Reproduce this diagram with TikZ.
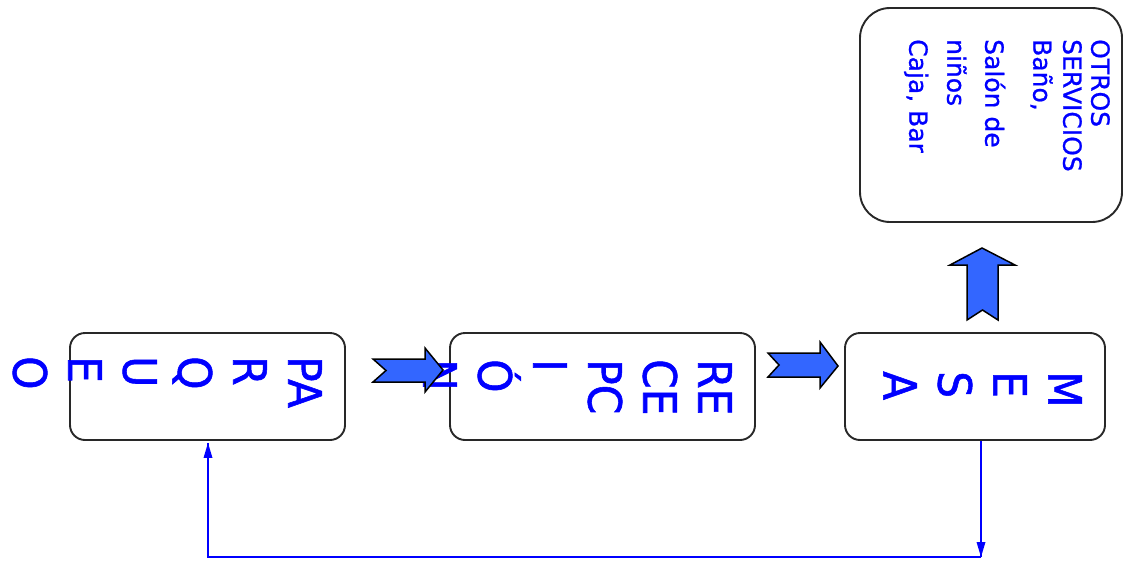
\documentclass[tikz,border=0pt]{standalone}
\usepackage{fontspec}
\usetikzlibrary{arrows.meta,calc}
\newfontfamily\bigfont[FakeStretch=0.92,FakeBold=1.2]{DejaVu Sans}
\newfontfamily\smallfont[FakeBold=0.8]{DejaVu Sans}
\definecolor{txtblue}{RGB}{0,0,255}
\definecolor{arrowfill}{RGB}{51,102,255}
\definecolor{edge}{RGB}{40,40,40}
\tikzset{
  box/.style={draw=edge, line width=1.9pt, rounded corners=15pt, fill=white, inner sep=0pt},
  bigbox/.style={box, rounded corners=30pt},
  bigtext/.style={rotate=-90, anchor=north west, inner sep=0pt, align=left,
    text=txtblue, font=\bigfont\fontsize{46}{55}\selectfont},
  smalltext/.style={rotate=-90, anchor=north west, inner sep=0pt, align=left,
    text=txtblue, font=\smallfont\fontsize{25}{28}\selectfont},
  blockarrow/.style={draw=black, fill=arrowfill, line width=1.5pt, line join=miter},
  link/.style={draw=txtblue, line width=1.6pt},
  tiphead/.style={fill=txtblue}
}
\begin{document}
\begin{tikzpicture}[x=1pt,y=-1pt]
\useasboundingbox (0,0) rectangle (1124,562);

% boxes
\node[box, minimum width=275, minimum height=107] (parq) at (207.5,386.5) {};
\node[box, minimum width=305, minimum height=107] (recep) at (602.5,386.5) {};
\node[box, minimum width=260, minimum height=107] (mesa) at (975,386.5) {};
\node[bigbox, minimum width=262, minimum height=214] (otros) at (991,115) {};

% labels, set top to bottom
\node[bigtext] (parqtxt) at (322,356) {PA\\R\\Q\\U\\E\\O};
\node[bigtext] (receptxt) at (732,359) {RE\\CE\\PC\\I\\Ó\\N};
\node[bigtext] (mesatxt) at (1082,371) {M\\E\\S\\A};
\node[smalltext] (otrostxt) at (1110,39) {OTROS\\SERVICIOS\\[2pt]Baño,\\[20pt]Salón de\\[10pt]niños\\[10pt]Caja, Bar};

% block arrows
\draw[blockarrow] (373,359) -- (425,359) -- (425,348) -- (443,370) -- (425,392)
  -- (425,382) -- (373,382) -- (386,370.5) -- cycle;
\draw[blockarrow] (768,353) -- (820,353) -- (820,342) -- (838,366) -- (820,388)
  -- (820,377) -- (768,377) -- (779,365) -- cycle;
\draw[blockarrow] (967,320) -- (967,265) -- (950,265) -- (982,248) -- (1015,265)
  -- (998,265) -- (998,320) -- (982.5,310) -- cycle;

% return path from the table back to the parking
\coordinate (turn) at (981,557);
\coordinate (back) at ($(parq.south)+(0.5,2)$);
\draw[link] (mesa.south -| turn) -- (turn);
\draw[link] (turn) -| (back);
% arrow heads at both ends
\fill[tiphead] (turn) -- ++(-4.5,-15) -- ++(9,0) -- cycle;
\fill[tiphead] (back) -- ++(-4.5,15) -- ++(9,0) -- cycle;
\end{tikzpicture}
\end{document}
